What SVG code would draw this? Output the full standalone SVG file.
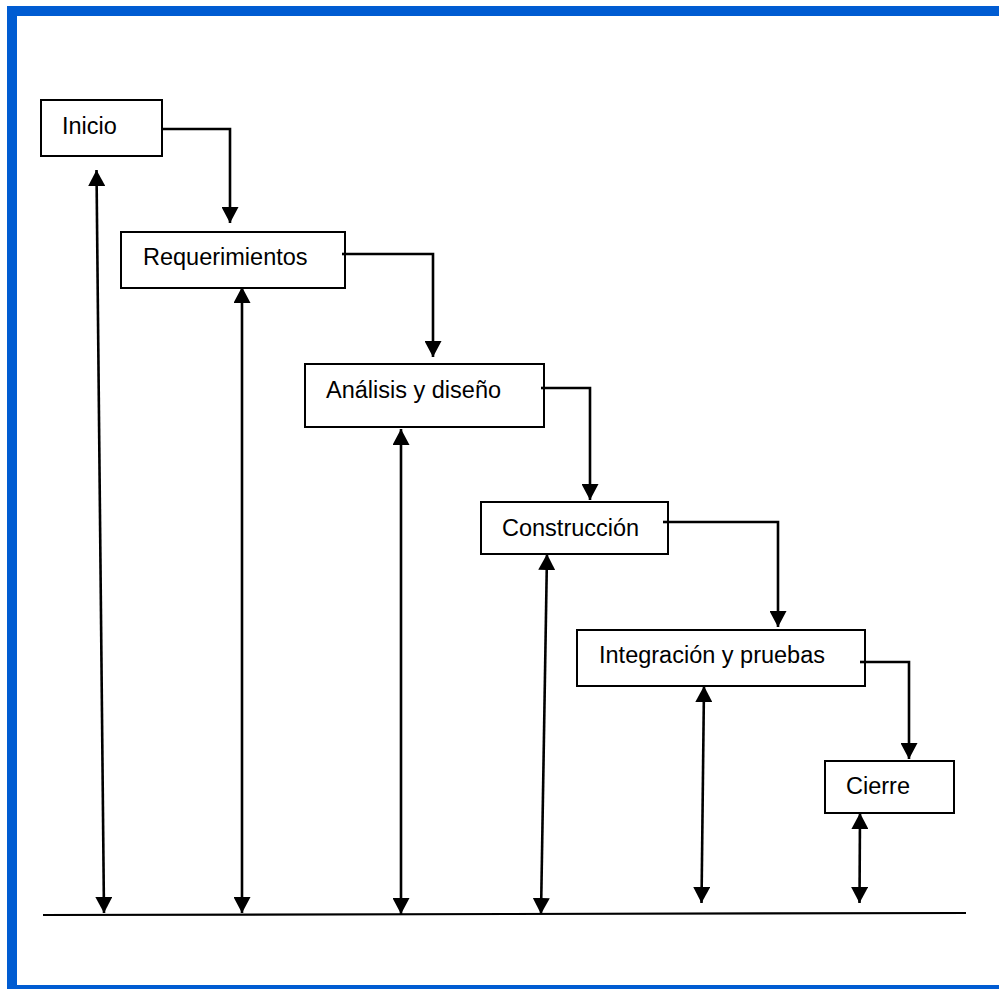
<svg xmlns="http://www.w3.org/2000/svg" width="999" height="989" viewBox="0 0 999 989">
  <style>
    .box { fill: #ffffff; stroke: #000000; stroke-width: 2; }
    .label { font-family: "Liberation Sans", Arial, sans-serif; font-size: 23.5px; fill: #000000; }
    .link { fill: none; stroke: #000000; stroke-width: 2.6; }
    .frame { fill: #005CD2; }
  </style>
  <defs>
    <marker id="arrow" markerUnits="userSpaceOnUse" markerWidth="17" markerHeight="17" refX="16" refY="8.5" orient="auto-start-reverse" viewBox="0 0 17 17">
      <path d="M0,0 L16,8.5 L0,17 z" fill="#000000"/>
    </marker>
    <marker id="dot" markerUnits="userSpaceOnUse" markerWidth="6" markerHeight="6" refX="3" refY="3" viewBox="0 0 6 6">
      <circle cx="3" cy="3" r="2.2" fill="#000000"/>
    </marker>
  </defs>

  <rect x="0" y="0" width="999" height="989" fill="#ffffff"/>

  <!-- page frame: top, left and bottom bars -->
  <g id="frame">
    <rect class="frame" x="7" y="6" width="992" height="10"/>
    <rect class="frame" x="7" y="6" width="10" height="983"/>
    <rect class="frame" x="7" y="985" width="992" height="4"/>
  </g>

  <!-- timeline base -->
  <line x1="43" y1="915" x2="966" y2="913" stroke="#000000" stroke-width="2.2"/>

  <g id="connectors">
    <!-- phase to phase -->
    <path class="link" d="M161,129 H230 V223" marker-start="url(#dot)" marker-end="url(#arrow)"/>
    <path class="link" d="M342,254 H433 V357" marker-start="url(#dot)" marker-end="url(#arrow)"/>
    <path class="link" d="M541,388 H590 V500" marker-start="url(#dot)" marker-end="url(#arrow)"/>
    <path class="link" d="M663,522 H778 V627" marker-start="url(#dot)" marker-end="url(#arrow)"/>
    <path class="link" d="M860,662 H909 V759" marker-start="url(#dot)" marker-end="url(#arrow)"/>
    <!-- phase to timeline -->
    <line class="link" x1="96.5" y1="170" x2="104" y2="913" marker-start="url(#arrow)" marker-end="url(#arrow)"/>
    <line class="link" x1="242" y1="287" x2="242" y2="913" marker-start="url(#arrow)" marker-end="url(#arrow)"/>
    <line class="link" x1="401" y1="429" x2="401" y2="914" marker-start="url(#arrow)" marker-end="url(#arrow)"/>
    <line class="link" x1="547" y1="554" x2="541" y2="914" marker-start="url(#arrow)" marker-end="url(#arrow)"/>
    <line class="link" x1="704" y1="686" x2="701.5" y2="903" marker-start="url(#arrow)" marker-end="url(#arrow)"/>
    <line class="link" x1="860" y1="813" x2="859.5" y2="903" marker-start="url(#arrow)" marker-end="url(#arrow)"/>
  </g>

  <g id="inicio">
    <rect class="box" x="41" y="100" width="121" height="56"/>
    <text class="label" x="62" y="134">Inicio</text>
  </g>
  <g id="requerimientos">
    <rect class="box" x="121" y="232" width="224" height="56"/>
    <text class="label" x="143" y="265">Requerimientos</text>
  </g>
  <g id="analisis">
    <rect class="box" x="305" y="364" width="239" height="63"/>
    <text class="label" x="326" y="398">Análisis y diseño</text>
  </g>
  <g id="construccion">
    <rect class="box" x="481" y="502" width="187" height="52"/>
    <text class="label" x="502" y="536">Construcción</text>
  </g>
  <g id="integracion">
    <rect class="box" x="577" y="630" width="288" height="56"/>
    <text class="label" x="599" y="663">Integración y pruebas</text>
  </g>
  <g id="cierre">
    <rect class="box" x="825" y="761" width="129" height="52"/>
    <text class="label" x="846" y="794">Cierre</text>
  </g>

  <!-- connector stubs that start inside the boxes, drawn over the box fill -->
  <g id="connector-stubs">
    <path class="link" d="M161,129 H163"/>
    <path class="link" d="M342,254 H346"/>
    <path class="link" d="M541,388 H545"/>
    <path class="link" d="M663,522 H669"/>
    <path class="link" d="M860,662 H866"/>
  </g>
</svg>
